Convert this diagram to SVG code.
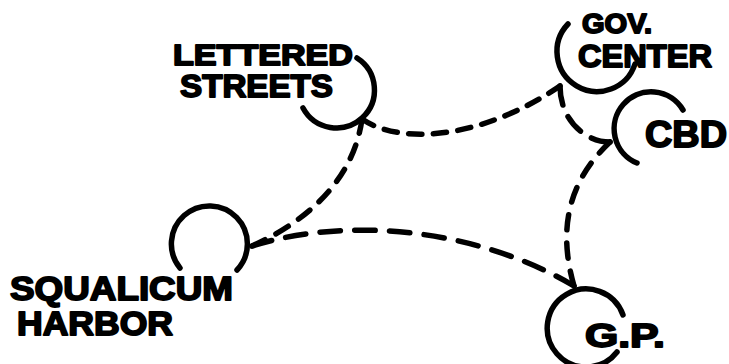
<svg xmlns="http://www.w3.org/2000/svg" width="729" height="364" viewBox="0 0 729 364">
<defs>
<style>
.ring{fill:none;stroke:#000;stroke-width:5.5;stroke-linecap:round}
.lbl{font-family:"Liberation Sans",Arial,sans-serif;font-weight:bold;fill:#000;stroke:#000;stroke-width:1.8;stroke-linejoin:round}
.con{fill:none;stroke:#000;stroke-width:5.5;stroke-linecap:round;stroke-linejoin:round}
</style>
</defs>
<rect width="729" height="364" fill="#fff"/>
<g id="connectors">
<path class="con" d="M362,119 C400,145 480,140 560,86" pathLength="222" stroke-dasharray="14 12"/>
<path class="con" d="M362,119 C355,170 320,215 252,246" pathLength="170" stroke-dasharray="14 12"/>
<path class="con" d="M252,246 C350,215 480,230 574,286" pathLength="326" stroke-dasharray="20 14"/>
<path class="con" d="M560,86 C560,120 585,142 610,142" pathLength="78" stroke-dasharray="18 12"/>
<path class="con" d="M610,142 C575,175 555,220 574,286" pathLength="144" stroke-dasharray="14 12"/>
</g>
<g id="lettered-streets">
<path class="ring" d="M357,58 A38,38 0 1 1 303,108"/>
<text class="lbl" x="173" y="65" font-size="30" textLength="180" lengthAdjust="spacingAndGlyphs">LETTERED</text>
<text class="lbl" x="180" y="97" font-size="32" textLength="153" lengthAdjust="spacingAndGlyphs">STREETS</text>
</g>
<g id="gov-center">
<path class="ring" d="M568,24 A40,40 0 1 0 635,64"/>
<text class="lbl" x="582" y="33" font-size="27" textLength="70" lengthAdjust="spacingAndGlyphs">GOV.</text>
<text class="lbl" x="578" y="67" font-size="32" textLength="134" lengthAdjust="spacingAndGlyphs">CENTER</text>
</g>
<g id="cbd">
<path class="ring" d="M683,110 A37,37 0 1 0 637,163"/>
<text class="lbl" x="645" y="147" font-size="36" textLength="82" lengthAdjust="spacingAndGlyphs">CBD</text>
</g>
<g id="squalicum-harbor">
<path class="ring" d="M180,268 A38,38 0 1 1 237,270"/>
<text class="lbl" x="10" y="300" font-size="33" textLength="223" lengthAdjust="spacingAndGlyphs">SQUALICUM</text>
<text class="lbl" x="17" y="335" font-size="33" textLength="156" lengthAdjust="spacingAndGlyphs">HARBOR</text>
</g>
<g id="gp">
<path class="ring" d="M623,315 A39,39 0 1 0 617,352"/>
<text class="lbl" x="585" y="347" font-size="33" textLength="80" lengthAdjust="spacingAndGlyphs">G.P.</text>
</g>
</svg>
